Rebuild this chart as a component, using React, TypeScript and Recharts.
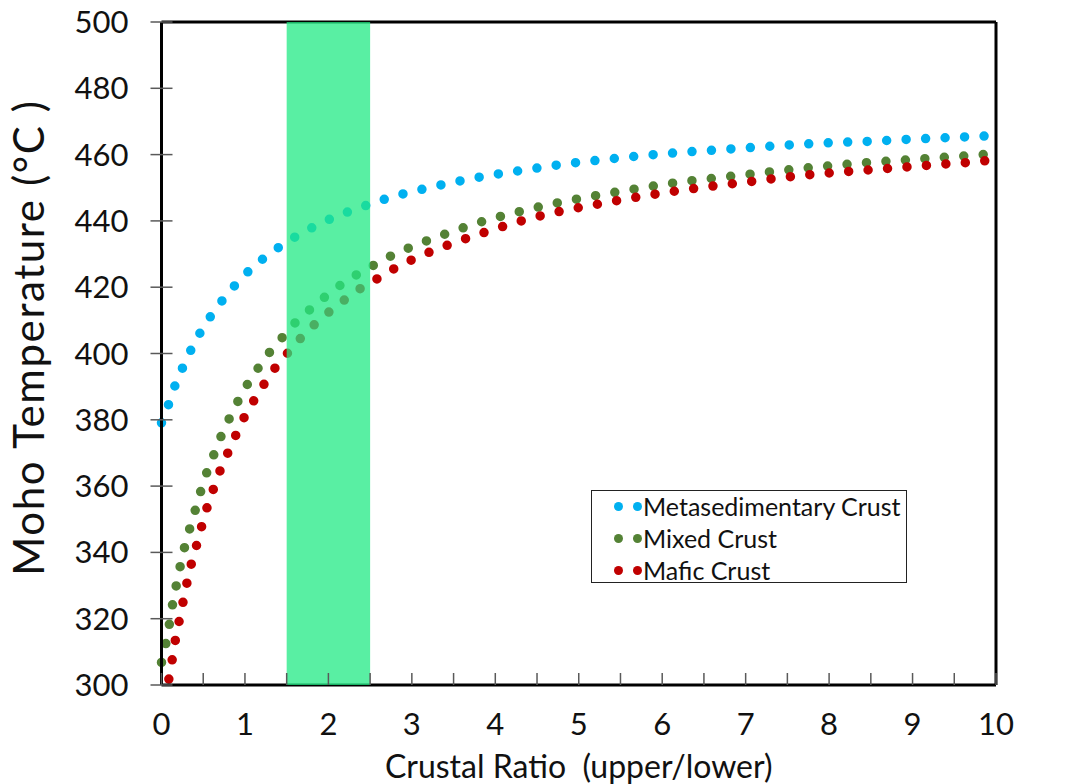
import React from 'react';
import { ComposedChart, Line, XAxis, YAxis, ReferenceArea, ReferenceLine, Label } from 'recharts';

const ratioTicks = [0, 0.5, 1, 1.5, 2, 2.5, 3, 3.5, 4, 4.5, 5, 5.5, 6, 6.5, 7, 7.5, 8, 8.5, 9, 9.5, 10];
const tempTicks = [300, 320, 340, 360, 380, 400, 420, 440, 460, 480, 500];

// crustal ratio band highlighted in green
const bandRange = [1.5, 2.5];

const metaRatio = [0, 0.09, 0.17, 0.27, 0.375, 0.495, 0.63, 0.78, 0.94, 1.11, 1.3, 1.49, 1.69, 1.9, 2.12, 2.33, 2.55, 2.77, 3.0, 3.45, 3.9, 4.36, 4.81, 5.27, 5.73, 6.19, 6.65, 7.11, 7.57, 8.04, 8.49, 8.95, 9.41, 9.87];
const metaTemp = [379.1, 385.0, 390.9, 396.6, 402.2, 407.6, 412.7, 417.6, 422.2, 426.4, 430.1, 433.5, 436.4, 439.2, 441.6, 443.6, 445.5, 447.3, 448.8, 451.4, 453.6, 455.4, 457.1, 458.4, 459.6, 460.6, 461.4, 462.2, 463.0, 463.6, 464.0, 464.6, 465.1, 465.6];

const mixedRatio = [0, 0.056, 0.1, 0.14, 0.19, 0.24, 0.3, 0.37, 0.44, 0.51, 0.6, 0.69, 0.79, 0.9, 1.02, 1.15, 1.29, 1.45, 1.61, 1.79, 1.97, 2.16, 2.36, 2.57, 2.77, 2.99, 3.43, 3.87, 4.32, 4.76, 5.22, 5.67, 6.13, 6.59, 7.05, 7.51, 7.96, 8.42, 8.88, 9.34, 9.8, 10.0];
const mixedTemp = [306.8, 313.0, 319.2, 325.4, 331.6, 337.7, 343.8, 349.8, 355.8, 361.8, 367.7, 373.6, 379.2, 384.8, 390.3, 395.3, 400.2, 404.9, 409.5, 413.5, 417.3, 420.9, 424.1, 427.0, 429.7, 432.1, 436.3, 440.0, 443.0, 445.5, 447.7, 449.6, 451.4, 452.8, 454.1, 455.4, 456.5, 457.5, 458.3, 459.1, 459.9, 460.4];

const maficRatio = [0.088, 0.13, 0.17, 0.22, 0.27, 0.32, 0.38, 0.45, 0.51, 0.59, 0.67, 0.77, 0.87, 0.97, 1.09, 1.22, 1.36, 1.51, 1.67, 1.84, 2.02, 2.21, 2.4, 2.61, 2.81, 3.02, 3.45, 3.89, 4.34, 4.78, 5.24, 5.7, 6.16, 6.61, 7.07, 7.52, 7.98, 8.44, 8.9, 9.36, 9.82, 9.98];
const maficTemp = [301.8, 307.9, 314.1, 320.3, 326.5, 332.6, 338.7, 344.7, 350.7, 356.7, 362.6, 368.6, 374.2, 379.7, 385.1, 390.4, 395.6, 400.1, 404.7, 408.9, 412.8, 416.5, 419.9, 422.9, 425.9, 428.5, 432.9, 436.7, 440.2, 442.9, 445.1, 447.2, 449.0, 450.5, 451.9, 453.3, 454.4, 455.3, 456.2, 457.1, 458.0, 458.5];

const seriesNames = ['Metasedimentary Crust', 'Mixed Crust', 'Mafic Crust'];
const seriesColors = ['#00B0F0', '#548235', '#C00000'];

const xTitle = 'Crustal Ratio\u00A0 (upper/lower)';
const yTitle = 'Moho Temperature (°C )';

const toPoints = (xs: number[], ys: number[]) => xs.map((x, i) => ({ ratio: x, temp: ys[i] }));
const seriesData = [toPoints(metaRatio, metaTemp), toPoints(mixedRatio, mixedTemp), toPoints(maficRatio, maficTemp)];

const FONT = 'Lato, "Open Sans", sans-serif';
const TEXT = '#111';

function LeftTick(props: any) {
  const { x, y, payload } = props;
  return (
    <g>
      <line x1={x - 11} x2={x + 11} y1={y} y2={y} stroke="#595959" strokeWidth={1.5} />
      <text x={x - 33} y={y + 11} textAnchor="end" fontSize={31} fontFamily={FONT} fill={TEXT}>
        {payload.value}
      </text>
    </g>
  );
}

function RightTick(props: any) {
  const { x, y, payload } = props;
  return (
    <g>
      <line x1={x - 11} x2={x + 11} y1={y} y2={y} stroke="#595959" strokeWidth={1.5} />
      <text x={x + 33} y={y + 11} textAnchor="start" fontSize={31} fontFamily={FONT} fill={TEXT}>
        {payload.value}
      </text>
    </g>
  );
}

function BottomTick(props: any) {
  const { x, y, payload } = props;
  const major = Number.isInteger(payload.value);
  return (
    <g>
      <line x1={x} x2={x} y1={y} y2={y - 12} stroke="#595959" strokeWidth={1.5} />
      {major && (
        <text x={x} y={y + 50} textAnchor="middle" fontSize={31} fontFamily={FONT} fill={TEXT}>
          {payload.value}
        </text>
      )}
    </g>
  );
}

function YTitle(props: any) {
  const { viewBox } = props;
  const cx = 44;
  const cy = viewBox.y + viewBox.height / 2 - 16;
  return (
    <text
      x={cx}
      y={cy}
      transform={`rotate(-90, ${cx}, ${cy})`}
      textAnchor="middle"
      fontSize={42}
      letterSpacing={1.6}
      fontFamily={FONT}
      fill={TEXT}
    >
      {yTitle}
    </text>
  );
}

function ChartLegend() {
  return (
    <div
      style={{
        position: 'absolute',
        left: 591,
        top: 490,
        width: 314,
        height: 91,
        border: '1.5px solid #222',
        background: '#fff',
        fontFamily: FONT,
        fontSize: 25,
        color: TEXT,
      }}
    >
      {seriesNames.map((name, i) => (
        <div key={name} style={{ position: 'absolute', left: 22, top: i * 32, height: 30, display: 'flex', alignItems: 'center' }}>
          <span style={{ width: 9, height: 9, borderRadius: 5, background: seriesColors[i], display: 'inline-block' }} />
          <span style={{ width: 10, display: 'inline-block' }} />
          <span style={{ width: 9, height: 9, borderRadius: 5, background: seriesColors[i], display: 'inline-block' }} />
          <span style={{ marginLeft: 1, lineHeight: '30px' }}>{name}</span>
        </div>
      ))}
    </div>
  );
}

export default function App() {
  return (
    <div style={{ position: 'absolute', left: 0, top: 0, width: 1090, height: 784, background: '#fff' }}>
      <ComposedChart width={1090} height={784} margin={{ top: 22, right: 0, bottom: 0, left: 0 }}>
        <XAxis
          type="number"
          dataKey="ratio"
          domain={[0, 10]}
          ticks={ratioTicks}
          interval={0}
          height={99}
          tickSize={0}
          tickMargin={0}
          tick={BottomTick}
          axisLine={{ stroke: '#000', strokeWidth: 3 }}
          allowDuplicatedCategory={false}
          label={{
            value: xTitle,
            position: 'insideBottom',
            offset: 6,
            fontSize: 32,
            fontFamily: FONT,
            fill: TEXT,
          }}
        />
        <YAxis
          yAxisId="left"
          type="number"
          domain={[300, 500]}
          ticks={tempTicks}
          interval={0}
          width={161.5}
          tickSize={0}
          tickMargin={0}
          tick={LeftTick}
          axisLine={{ stroke: '#000', strokeWidth: 3 }}
        >
          <Label content={YTitle} />
        </YAxis>
        <YAxis
          yAxisId="right"
          orientation="right"
          type="number"
          domain={[300, 500]}
          ticks={tempTicks}
          interval={0}
          width={94}
          tickSize={0}
          tickMargin={0}
          tick={RightTick}
          axisLine={{ stroke: '#000', strokeWidth: 3 }}
        />
        <ReferenceLine yAxisId="left" y={500} stroke="#000" strokeWidth={3} />
        {seriesData.map((pts, i) => (
          <Line
            key={seriesNames[i]}
            yAxisId="left"
            data={pts}
            dataKey="temp"
            name={seriesNames[i]}
            type="monotone"
            stroke={seriesColors[i]}
            strokeWidth={9.5}
            strokeDasharray="0 19.5"
            strokeLinecap="round"
            dot={false}
            activeDot={false}
            isAnimationActive={false}
          />
        ))}
        <ReferenceArea
          yAxisId="left"
          x1={bandRange[0]}
          x2={bandRange[1]}
          y1={300}
          y2={500}
          fill="#21E984"
          fillOpacity={0.75}
          stroke="none"
          zIndex={1000}
        />
      </ComposedChart>
      <ChartLegend />
    </div>
  );
}
